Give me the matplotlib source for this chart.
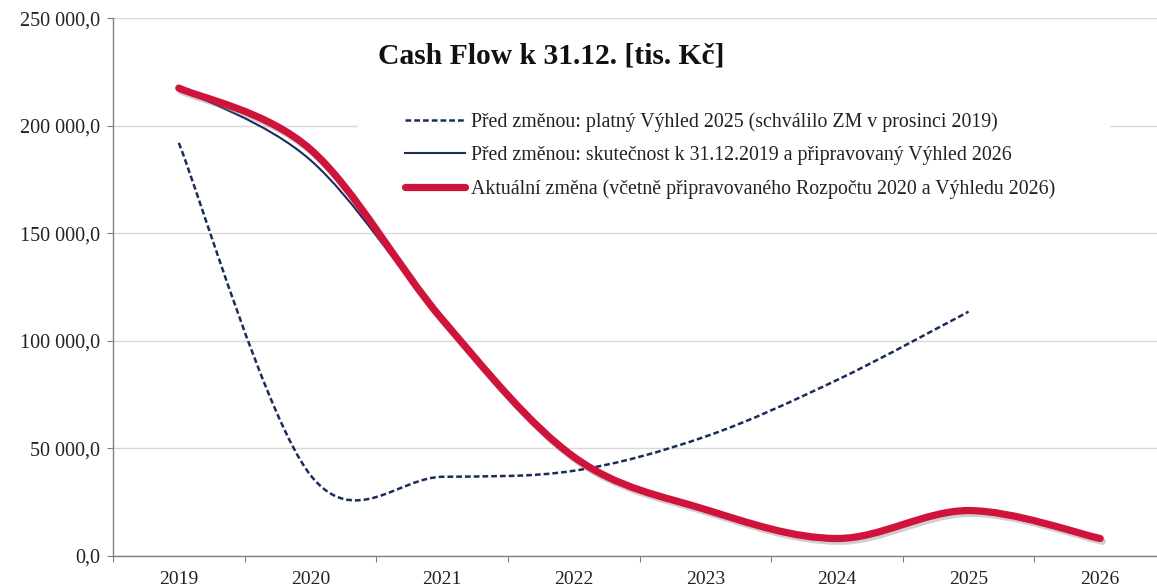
import numpy as np
import matplotlib as mpl
mpl.use('agg')
import matplotlib.pyplot as plt
from matplotlib.path import Path
from matplotlib.patches import PathPatch, Rectangle
from matplotlib.lines import Line2D
import matplotlib.patheffects as pe

plt.rcParams['font.family'] = ['Liberation Serif', 'DejaVu Serif']

# data (tis. Kč)
years = ['2019', '2020', '2021', '2022', '2023', '2024', '2025', '2026']
vyhled_2025 = [192000, 37500, 36700, 39500, 55400, 81700, 113500]
skutecnost_2026 = [217500, 184000, 110000, 46000, 21500, 8000, 21000, 8000]
aktualni_zmena = [217500, 189000, 110000, 46000, 21500, 8000, 21000, 8000]

labels = ['Před změnou: platný Výhled 2025 (schválilo ZM v prosinci 2019)',
          'Před změnou: skutečnost k 31.12.2019 a připravovaný Výhled 2026',
          'Aktuální změna (včetně připravovaného Rozpočtu 2020 a Výhledu 2026)']
title = 'Cash Flow k 31.12. [tis. Kč]'

navy = '#1c2b5e'
red = '#d0133a'


def smooth_path(values):
    # Excel-like smoothed line: Catmull-Rom segments as cubic Bezier curves
    pts = np.column_stack([np.arange(len(values)), np.asarray(values, float)])
    verts = [pts[0]]
    codes = [Path.MOVETO]
    for i in range(len(pts) - 1):
        p0 = pts[max(i - 1, 0)]
        p1 = pts[i]
        p2 = pts[i + 1]
        p3 = pts[min(i + 2, len(pts) - 1)]
        c1 = p1 + (p2 - p0) / 6.0
        c2 = p2 - (p3 - p1) / 6.0
        verts += [c1, c2, p2]
        codes += [Path.CURVE4] * 3
    return Path(verts, codes)


fig = plt.figure(figsize=(11.57, 5.88), dpi=100)
ax = fig.add_axes([113 / 1157, 32.3 / 588, 1053 / 1157, 537.5 / 588])

ax.set_xlim(-0.5, len(years) - 0.5)
ax.set_ylim(0, 250000)
ax.set_axisbelow(True)

# white legend area (hides gridline like the Excel legend box)
ax.add_patch(Rectangle((358 / 1157, 1 - 212 / 588), 752 / 1157, 112 / 588,
                       transform=fig.transFigure, facecolor='white',
                       edgecolor='none', zorder=1))

dash = PathPatch(smooth_path(vyhled_2025), fill=False, edgecolor=navy, lw=1.8,
                 linestyle=(0, (2.3, 1.2)), capstyle='butt', zorder=3)
ax.add_patch(dash)
blue = PathPatch(smooth_path(skutecnost_2026), fill=False, edgecolor=navy,
                 lw=1.5, zorder=3)
ax.add_patch(blue)
main = PathPatch(smooth_path(aktualni_zmena), fill=False, edgecolor=red, lw=5.2,
                 capstyle='round', zorder=4,
                 path_effects=[pe.SimpleLineShadow(offset=(1.5, -2), shadow_color='#777777', alpha=0.35),
                               pe.Normal()])
ax.add_patch(main)

# axes look
for s in ['top', 'right']:
    ax.spines[s].set_visible(False)
for s in ['left', 'bottom']:
    ax.spines[s].set_color('#808080')
    ax.spines[s].set_linewidth(1.0)

ax.set_yticks(np.arange(0, 250001, 50000))
ax.set_yticklabels([f'{v:,.1f}'.replace(',', ' ').replace('.', ',')
                    for v in np.arange(0, 250001, 50000)])
ax.yaxis.grid(True, color='#d9d9d9', lw=1.0)

ax.set_xticks(np.arange(-0.5, len(years)), minor=False)
ax.set_xticklabels([])
ax.set_xticks(np.arange(len(years)), minor=True)
ax.set_xticklabels(years, minor=True)
ax.tick_params(axis='x', which='major', length=4.5, color='#808080', direction='out')
ax.tick_params(axis='x', which='minor', length=0, pad=11, labelsize=14, labelcolor='#222222')
ax.tick_params(axis='y', length=4.5, color='#808080', pad=5, labelsize=14.5, labelcolor='#222222')

handles = [Line2D([], [], color=navy, lw=1.8, linestyle=(0, (2.3, 1.2))),
           Line2D([], [], color=navy, lw=1.5),
           Line2D([], [], color=red, lw=5.2, solid_capstyle='round')]
leg = ax.legend(handles, labels, loc='upper left', frameon=False,
                bbox_to_anchor=(405 / 1157, 1 - 112 / 588), bbox_transform=fig.transFigure,
                fontsize=14.3, handlelength=3.0, handletextpad=0.3, labelspacing=0.72,
                borderpad=0, borderaxespad=0)
leg.set_zorder(6)
for t in leg.get_texts():
    t.set_color('#222222')

fig.text(551 / 1157, 1 - 56 / 588, title, ha='center', va='center',
         fontsize=21.3, fontweight='bold', color='#111111')

fig.savefig('out.png', dpi=100)
